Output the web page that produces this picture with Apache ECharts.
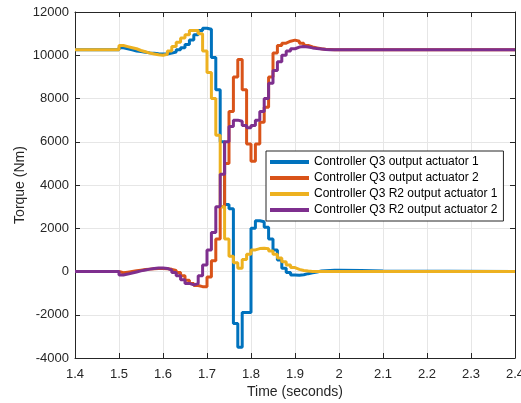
<!DOCTYPE html>
<html>
<head>
<meta charset="utf-8">
<script src="https://cdn.jsdelivr.net/npm/echarts@6/dist/echarts.min.js"></script>
<style>
  html, body { margin: 0; padding: 0; background: #fff; }
  #chart { width: 521px; height: 403px; }
</style>
</head>
<body>
<div id="chart"></div>
<script>
// sample times (s)
const times = [1.40,
  1.50, 1.51, 1.52, 1.53, 1.54, 1.55, 1.56, 1.57, 1.58, 1.59,
  1.60, 1.61, 1.62, 1.63, 1.64, 1.65, 1.66, 1.67, 1.68, 1.69,
  1.70, 1.71, 1.72, 1.73, 1.74, 1.75, 1.76, 1.77, 1.78, 1.79,
  1.80, 1.81, 1.82, 1.83, 1.84, 1.85, 1.86, 1.87, 1.88, 1.89,
  1.90, 1.91, 1.92, 1.93, 1.94, 1.95, 1.96, 1.97, 1.98, 1.99,
  2.00, 2.05, 2.10, 2.40];

// Controller Q3 output actuator 1
const q3Act1 = [10250,
  10350, 10300, 10250, 10200, 10170, 10140, 10110, 10090, 10070, 10060,
  10060, 10100, 10150, 10250, 10350, 10500, 10700, 10950, 11150, 11250,
  11200, 9900, 8400, 6000, 3100, 2900, -2400, -3500, -1900, -1900,
  2000, 2350, 2300, 2050, 1500, 1000, 530, 150, -50, -160,
  -170, -150, -100, -60, -20, 20, 40, 50, 60, 60,
  50, 20, 0, 0];

// Controller Q3 output actuator 2
const q3Act2 = [0,
  -60, -30, 0, 30, 60, 90, 110, 130, 140, 140,
  130, 100, 50, -50, -200, -400, -550, -650, -700, -700,
  -250, 500, 1500, 3000, 5000, 7400, 9000, 9800, 8400, 5900,
  5100, 5900, 6900, 7600, 9000, 10100, 10450, 10560, 10650, 10700,
  10650, 10550, 10450, 10380, 10340, 10300, 10280, 10270, 10260, 10260,
  10250, 10250, 10250, 10250];

// Controller Q3 R2 output actuator 1
const r2Act1 = [10250,
  10450, 10400, 10350, 10300, 10220, 10160, 10100, 10060, 10020, 10000,
  10050, 10200, 10400, 10600, 10800, 10950, 11150, 11150, 11000, 10200,
  9200, 8000, 6300, 3000, 1500, 700, 400, 150, 550, 800,
  1000, 1060, 1080, 1050, 950, 800, 620, 450, 300, 180,
  100, 50, 20, 0, 0, 0, 0, 0, 0, 0,
  0, 0, 0, 0];

// Controller Q3 R2 output actuator 2
const r2Act2 = [0,
  -160, -120, -70, -20, 30, 70, 110, 140, 160, 160,
  140, 60, -50, -200, -380, -550, -620, -560, -200, 300,
  1000, 1800, 3000, 4500, 6000, 6700, 7000, 6950, 6750, 6650,
  6750, 7000, 7400, 8000, 8700, 9300, 9700, 10000, 10200, 10300,
  10380, 10400, 10380, 10340, 10310, 10290, 10270, 10260, 10260, 10250,
  10250, 10250, 10250, 10250];

const names = [
  'Controller Q3 output actuator 1',
  'Controller Q3 output actuator 2',
  'Controller Q3 R2 output actuator 1',
  'Controller Q3 R2 output actuator 2'
];
const colors = ['#0072BD', '#D95319', '#EDB120', '#7E2F8E'];
const values = [q3Act1, q3Act2, r2Act1, r2Act2];

const font = 'Liberation Sans, Arial, Helvetica, sans-serif';
const axisColor = '#262626';

let myChart = echarts.init(document.getElementById('chart'));

let option = {
  animation: false,
  textStyle: { fontFamily: font },
  grid: { left: 75, right: 6, top: 12, bottom: 45, outerBoundsMode: 'none', containLabel: false },
  legend: {
    orient: 'vertical',
    left: 266,
    top: 151,
    padding: [4, 6, 4, 4],
    itemWidth: 39,
    itemHeight: 4,
    itemGap: 2,
    icon: 'rect',
    backgroundColor: '#fff',
    borderColor: axisColor,
    borderWidth: 1,
    borderRadius: 0,
    textStyle: { fontFamily: font, fontSize: 12, color: '#000', lineHeight: 14 },
    data: names
  },
  xAxis: [{
    type: 'value',
    min: 1.4,
    max: 2.4,
    interval: 0.1,
    name: 'Time (seconds)',
    nameLocation: 'middle',
    nameGap: 27,
    nameMoveOverlap: false,
    nameTextStyle: { fontSize: 14, color: axisColor },
    axisLine: { onZero: false, lineStyle: { color: axisColor } },
    axisTick: { inside: true, length: 5, lineStyle: { color: axisColor } },
    axisLabel: { fontSize: 13, color: axisColor, margin: 10 },
    splitLine: { lineStyle: { color: '#e6e6e6' } }
  }, {
    type: 'value',
    position: 'top',
    min: 1.4,
    max: 2.4,
    interval: 0.1,
    axisLine: { show: true, onZero: false, lineStyle: { color: axisColor } },
    axisTick: { inside: true, length: 5, lineStyle: { color: axisColor } },
    axisLabel: { show: false },
    splitLine: { show: false }
  }],
  yAxis: [{
    type: 'value',
    min: -4000,
    max: 12000,
    interval: 2000,
    name: 'Torque (Nm)',
    nameLocation: 'middle',
    nameGap: 48,
    nameMoveOverlap: false,
    nameTextStyle: { fontSize: 14, color: axisColor },
    axisLine: { show: true, onZero: false, lineStyle: { color: axisColor } },
    axisTick: { show: true, inside: true, length: 5, lineStyle: { color: axisColor } },
    axisLabel: { fontSize: 13, color: axisColor, margin: 6, formatter: v => String(v) },
    splitLine: { lineStyle: { color: '#e6e6e6' } }
  }, {
    type: 'value',
    position: 'right',
    min: -4000,
    max: 12000,
    interval: 2000,
    axisLine: { show: true, onZero: false, lineStyle: { color: axisColor } },
    axisTick: { show: true, inside: true, length: 5, lineStyle: { color: axisColor } },
    axisLabel: { show: false },
    splitLine: { show: false }
  }],
  series: names.map((n, i) => ({
    name: n,
    type: 'line',
    step: 'end',
    showSymbol: false,
    symbol: 'none',
    color: colors[i],
    lineStyle: { width: 3, color: colors[i] },
    data: times.map((t, k) => [t, values[i][k]])
  }))
};

myChart.setOption(option);
</script>
</body>
</html>
